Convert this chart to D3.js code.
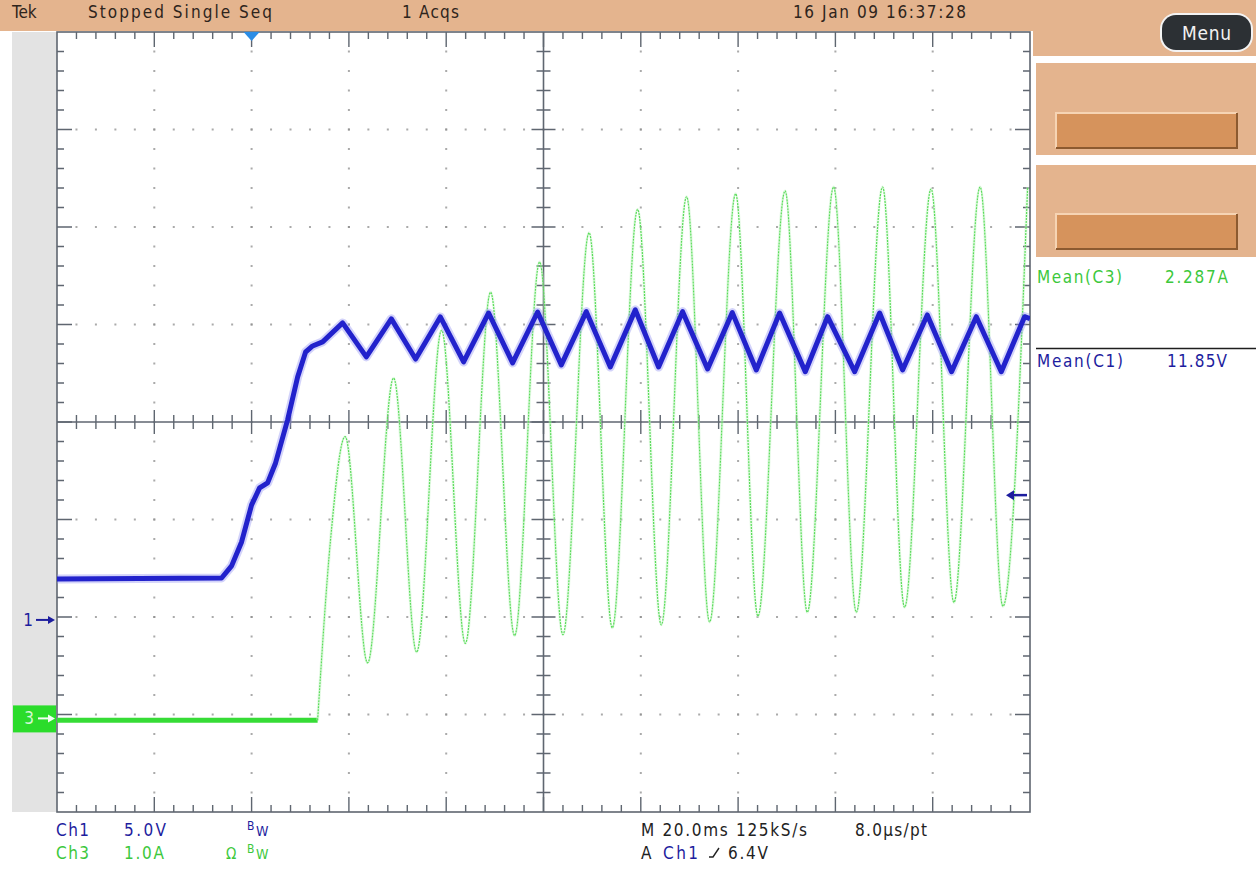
<!DOCTYPE html>
<html>
<head>
<meta charset="utf-8">
<script src="https://cdn.jsdelivr.net/npm/d3@7"></script>
<style>
  html, body { margin: 0; padding: 0; background: #ffffff; }
  svg { display: block; }
  text { font-family: "Liberation Sans Narrow", "DejaVu Sans Condensed", "Liberation Sans", sans-serif; }
</style>
</head>
<body>
<svg id="scope" width="1256" height="869"></svg>
<script>
// ---- Acquisition settings -------------------------------------------------
const timePerDiv = 20.0;          // ms / div
const recordStart = -40.0;        // ms, trigger sits two divisions from the left
const ch1VoltsPerDiv = 5.0;
const ch1Position = -2.03;        // divisions
const ch3AmpsPerDiv = 1.0;
const ch3Position = -3.04;        // divisions
const triggerLevel = 6.4;         // V on Ch1

// ---- Ch1 voltage trace (time in ms from trigger, volts) -------------------
const ch1Time = [-40.0, -6.17, -4.11, -2.06, 0, 1.64, 3.29, 4.93, 7.40, 9.46,
  11.10, 12.54, 14.60, 18.71, 23.58, 28.72, 33.71, 38.79, 43.58, 48.72,
  53.65, 58.79, 63.66, 68.80, 73.73, 78.87, 83.66, 88.59, 93.73, 98.81,
  103.74, 108.53, 113.81, 118.40, 123.95, 129.09, 133.81, 138.89, 143.88, 148.96,
  154.10, 158.89, 160.0];
const ch1Volts = [2.10, 2.15, 2.77, 4.00, 5.90, 6.77, 7.03, 8.05, 10.26, 12.46,
  13.74, 14.05, 14.26, 15.23, 13.49, 15.44, 13.38, 15.54, 13.23, 15.74,
  13.18, 15.79, 13.08, 15.81, 12.97, 15.90, 12.97, 15.81, 12.87, 15.76,
  12.82, 15.74, 12.73, 15.55, 12.73, 15.74, 12.82, 15.64, 12.73, 15.55,
  12.73, 15.55, 15.45];

// ---- Ch3 current trace (time in ms from trigger, amps) --------------------
const ch3Time = [-40.0, 13.57, 16.24, 19.22, 23.84, 29.19, 33.92, 39.05, 43.93, 49.13,
  54.06, 59.20, 63.99, 69.37, 74.14, 79.34, 84.21, 89.41, 94.14, 99.49,
  104.07, 109.66, 114.22, 119.63, 124.30, 129.70, 134.22, 139.67, 144.36, 149.74,
  154.43, 159.51];
const ch3Amps = [-0.02, -0.02, 1.84, 2.89, 0.57, 3.49, 0.68, 3.98, 0.77, 4.37,
  0.85, 4.68, 0.86, 4.98, 0.93, 5.22, 0.96, 5.35, 0.99, 5.38,
  1.05, 5.41, 1.09, 5.45, 1.09, 5.45, 1.14, 5.43, 1.19, 5.45,
  1.15, 5.45];

// ---- Readouts -------------------------------------------------------------
const headerLabels = ["Tek", "Stopped  Single Seq", "1 Acqs", "16 Jan 09 16:37:28"];
const measureNames = ["Mean(C3)", "Mean(C1)"];
const measureValues = ["2.287A", "11.85V"];
const ch1Readout = ["Ch1", "5.0V"];
const ch3Readout = ["Ch3", "1.0A"];
const timebaseReadout = ["M 20.0ms 125kS/s", "8.0\u00b5s/pt"];
const triggerReadout = ["A", "Ch1", "6.4V"];

// ---- Layout ---------------------------------------------------------------
const svg = d3.select("#scope");
const G = { left: 57, right: 1030, top: 32, bottom: 812 };
const peach = "#e4b48e";
const navy = "#1d1d9e";
const green = "#3cc83c";
const gridGrey = "#5f6670";

const xDiv = d3.scaleLinear().domain([-5, 5]).range([G.left, G.right]);
const yDiv = d3.scaleLinear().domain([-4, 4]).range([G.bottom, G.top]);
const x = d3.scaleLinear().domain([recordStart, recordStart + 10 * timePerDiv]).range([G.left, G.right]);
const y1 = d3.scaleLinear()
  .domain([(-4 - ch1Position) * ch1VoltsPerDiv, (4 - ch1Position) * ch1VoltsPerDiv])
  .range([G.bottom, G.top]);
const y3 = d3.scaleLinear()
  .domain([(-4 - ch3Position) * ch3AmpsPerDiv, (4 - ch3Position) * ch3AmpsPerDiv])
  .range([G.bottom, G.top]);

// ---- Frame: header bar, side menu, left margin ---------------------------
svg.append("rect").attr("x", 0).attr("y", 0).attr("width", 1256).attr("height", 31).attr("fill", peach);
svg.append("rect").attr("x", 1033).attr("y", 0).attr("width", 223).attr("height", 56).attr("fill", peach);
[[63, 92], [165, 92]].forEach(([top, h]) => {
  svg.append("rect").attr("x", 1036).attr("y", top).attr("width", 220).attr("height", h).attr("fill", peach);
});
[113, 214].forEach(top => {
  const bx = 1056, bw = 181, bh = 35;
  svg.append("rect").attr("x", bx).attr("y", top).attr("width", bw).attr("height", bh).attr("fill", "#d6935c");
  svg.append("path").attr("d", `M${bx},${top + bh} V${top} H${bx + bw}`)
    .attr("fill", "none").attr("stroke", "#f6d4b4").attr("stroke-width", 2);
  svg.append("path").attr("d", `M${bx},${top + bh} H${bx + bw} V${top}`)
    .attr("fill", "none").attr("stroke", "#8c5a30").attr("stroke-width", 2);
});
// Menu pill
svg.append("rect").attr("x", 1160).attr("y", 13).attr("width", 93).attr("height", 39).attr("rx", 16)
  .attr("fill", "#f4f4f4");
svg.append("rect").attr("x", 1162).attr("y", 15).attr("width", 89).attr("height", 35).attr("rx", 14)
  .attr("fill", "#2c3034");
svg.append("text").attr("x", 1182).attr("y", 40)
  .attr("font-size", 19).attr("fill", "#f2f2f2")
  .attr("textLength", 49).attr("lengthAdjust", "spacing").text("Menu");

// left margin
svg.append("rect").attr("x", 12).attr("y", G.top).attr("width", G.left - 12).attr("height", G.bottom - G.top)
  .attr("fill", "#e3e3e3");

// header texts (the short "Tek" keeps its natural spacing)
const headerX = [12, 88, 402, 793], headerW = [null, 184, 57, 173];
headerLabels.forEach((s, i) => {
  const t = svg.append("text").attr("x", headerX[i]).attr("y", 18).attr("font-size", 17)
    .attr("fill", "#2e241c").text(s);
  if (headerW[i]) t.attr("textLength", headerW[i]).attr("lengthAdjust", "spacing");
});

// ---- Graticule -------------------------------------------------------------
const grat = svg.append("g");
const minor = d3.range(0, 50.001, 1).map(i => -5 + i * 0.2);   // x minor positions (div)
const minorY = d3.range(0, 40.001, 1).map(i => -4 + i * 0.2);  // y minor positions (div)

// dotted division lines
const dots = [];
d3.range(-4, 5).filter(k => k !== 0).forEach(k => {
  minorY.slice(1, -1).forEach(v => dots.push([xDiv(k), yDiv(v)]));
});
d3.range(-3, 4).filter(k => k !== 0).forEach(k => {
  minor.slice(1, -1).forEach(u => dots.push([xDiv(u), yDiv(k)]));
});
grat.selectAll("rect.dot").data(dots).join("rect").attr("class", "dot")
  .attr("x", d => d[0] - 1).attr("y", d => d[1] - 1).attr("width", 2).attr("height", 2)
  .attr("fill", "#8e8e8e").attr("opacity", 0.75);

// border and centre cross
grat.append("rect").attr("x", G.left).attr("y", G.top).attr("width", G.right - G.left)
  .attr("height", G.bottom - G.top).attr("fill", "none").attr("stroke", gridGrey).attr("stroke-width", 1.6);
grat.append("line").attr("x1", G.left).attr("x2", G.right).attr("y1", yDiv(0)).attr("y2", yDiv(0))
  .attr("stroke", gridGrey).attr("stroke-width", 1.6);
grat.append("line").attr("x1", xDiv(0)).attr("x2", xDiv(0)).attr("y1", G.top).attr("y2", G.bottom)
  .attr("stroke", gridGrey).attr("stroke-width", 1.6);

// tick marks
let tickPath = "";
const isMajor = v => Math.abs(v - Math.round(v)) < 1e-6;
minor.slice(1, -1).forEach(u => {
  const px = xDiv(u), L = isMajor(u) ? 15 : 7, C = isMajor(u) ? 12 : 7;
  tickPath += `M${px},${G.top}v${L}M${px},${G.bottom}v${-L}M${px},${yDiv(0) - C}v${2 * C}`;
});
minorY.slice(1, -1).forEach(v => {
  const py = yDiv(v), L = isMajor(v) ? 15 : 7, C = isMajor(v) ? 12 : 7;
  tickPath += `M${G.left},${py}h${L}M${G.right},${py}h${-L}M${xDiv(0) - C},${py}h${2 * C}`;
});
grat.append("path").attr("d", tickPath).attr("stroke", gridGrey).attr("stroke-width", 1.4).attr("fill", "none");

// ---- Traces ----------------------------------------------------------------
svg.append("clipPath").attr("id", "screen").append("rect")
  .attr("x", G.left).attr("y", G.top).attr("width", G.right - G.left).attr("height", G.bottom - G.top);
const traces = svg.append("g").attr("clip-path", "url(#screen)");

const ch3 = ch3Time.map((t, i) => ({ t, v: ch3Amps[i] }));
const ch1 = ch1Time.map((t, i) => ({ t, v: ch1Volts[i] }));

const line3 = d3.line().x(d => x(d.t)).y(d => y3(d.v)).curve(d3.curveMonotoneX);
const line1 = d3.line().x(d => x(d.t)).y(d => y1(d.v)).curve(d3.curveLinear);

// Ch3: idle baseline drawn heavy, oscillation drawn as a fine sampled line
traces.append("path").attr("d", line3(ch3.slice(0, 2))).attr("fill", "none")
  .attr("stroke", "#36dc36").attr("stroke-width", 5);
traces.append("path").attr("d", line3(ch3.slice(1))).attr("fill", "none")
  .attr("stroke", "#c4f4c4").attr("stroke-width", 3).attr("opacity", 0.45);
traces.append("path").attr("d", line3(ch3.slice(1))).attr("fill", "none")
  .attr("stroke", "#5bdc5b").attr("stroke-width", 1.2).attr("stroke-dasharray", "2 1");

// Ch1
traces.append("path").attr("d", line1(ch1)).attr("fill", "none")
  .attr("stroke", "#9092f2").attr("stroke-width", 9).attr("opacity", 0.4)
  .attr("stroke-linejoin", "round");
traces.append("path").attr("d", line1(ch1)).attr("fill", "none")
  .attr("stroke", "#2222cc").attr("stroke-width", 5).attr("stroke-linejoin", "round");

// ---- Markers ---------------------------------------------------------------
// trigger position
const tx = x(0);
svg.append("path").attr("d", `M${tx - 8},${G.top} L${tx + 8},${G.top} L${tx},${G.top + 9} Z`).attr("fill", "#2b8de6");

// trigger level arrow
const ty = y1(triggerLevel);
svg.append("path").attr("d", `M${G.right - 3},${ty} H${G.right - 18}`).attr("stroke", navy).attr("stroke-width", 2.5);
svg.append("path").attr("d", `M${G.right - 24},${ty} l8,-5 v10 Z`).attr("fill", navy);

// Ch1 ground marker
const g1 = y1(0);
svg.append("text").attr("x", 33).attr("y", g1 + 6).attr("text-anchor", "end").attr("font-size", 17)
  .attr("fill", navy).text("1");
svg.append("path").attr("d", `M36,${g1} H49`).attr("stroke", navy).attr("stroke-width", 2);
svg.append("path").attr("d", `M55,${g1} l-7,-4 v8 Z`).attr("fill", navy);

// Ch3 ground marker
const g3 = y3(0);
svg.append("rect").attr("x", 13).attr("y", g3 - 13).attr("width", G.left - 14).attr("height", 27).attr("fill", "#2bdc2b");
svg.append("text").attr("x", 34).attr("y", g3 + 6).attr("text-anchor", "end").attr("font-size", 17)
  .attr("fill", "#d6f7d6").text("3");
svg.append("path").attr("d", `M38,${g3} H49`).attr("stroke", "#f4fff4").attr("stroke-width", 2);
svg.append("path").attr("d", `M55,${g3} l-7,-4 v8 Z`).attr("fill", "#f4fff4");

// ---- Measurements ----------------------------------------------------------
svg.append("text").attr("x", 1037).attr("y", 283).attr("font-size", 17).attr("fill", green)
  .attr("textLength", 85).attr("lengthAdjust", "spacing").text(measureNames[0]);
svg.append("text").attr("x", 1165).attr("y", 283).attr("font-size", 17).attr("fill", green)
  .attr("textLength", 63).attr("lengthAdjust", "spacing").text(measureValues[0]);
svg.append("line").attr("x1", 1036).attr("x2", 1256).attr("y1", 348.5).attr("y2", 348.5)
  .attr("stroke", "#1e1e1e").attr("stroke-width", 1.5);
svg.append("text").attr("x", 1037).attr("y", 367).attr("font-size", 17).attr("fill", navy)
  .attr("textLength", 86).attr("lengthAdjust", "spacing").text(measureNames[1]);
svg.append("text").attr("x", 1167).attr("y", 367).attr("font-size", 17).attr("fill", navy)
  .attr("textLength", 60).attr("lengthAdjust", "spacing").text(measureValues[1]);

// ---- Bottom readouts -------------------------------------------------------
function label(s, xp, yp, fill, w, size) {
  const t = svg.append("text").attr("x", xp).attr("y", yp).attr("font-size", size || 17).attr("fill", fill).text(s);
  if (w) t.attr("textLength", w).attr("lengthAdjust", "spacing");
  return t;
}
function bwMark(xp, yp, fill) {
  label("B", xp, yp - 6, fill, null, 12);
  label("W", xp + 9, yp, fill, null, 14);
}
label(ch1Readout[0], 56, 836, navy, 33);
label(ch1Readout[1], 124, 836, navy, 42);
bwMark(247, 836, navy);
label(ch3Readout[0], 56, 859, green, 33);
label(ch3Readout[1], 124, 859, green, 40);
label("\u03a9", 226, 859, green, null, 15);
bwMark(247, 859, green);

label(timebaseReadout[0], 641, 836, "#222", 166);
label(timebaseReadout[1], 855, 836, "#222", 72);
label(triggerReadout[0], 641, 859, "#222");
label(triggerReadout[1], 663, 859, navy, 35);
svg.append("path").attr("d", "M709,857 H713 L719,848").attr("fill", "none").attr("stroke", "#222").attr("stroke-width", 1.4);
label(triggerReadout[2], 728, 859, "#222", 40);
</script>
</body>
</html>
